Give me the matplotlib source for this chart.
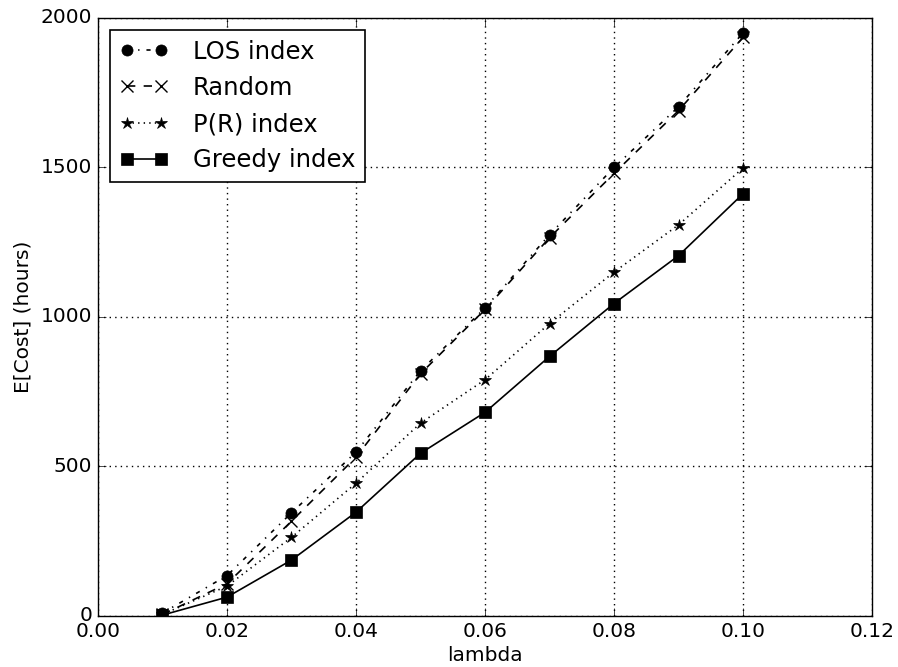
import numpy as np
import matplotlib
matplotlib.use('Agg')
import matplotlib.pyplot as plt

plt.style.use('classic')

# DATA
lam = [0.01, 0.02, 0.03, 0.04, 0.05, 0.06, 0.07, 0.08, 0.09, 0.10]
los_index = [10, 135, 345, 548, 820, 1030, 1275, 1500, 1703, 1950]
random_idx = [5, 108, 317, 531, 810, 1025, 1265, 1480, 1690, 1935]
pr_index = [5, 100, 263, 444, 645, 790, 978, 1150, 1308, 1498]
greedy_index = [3, 63, 187, 347, 544, 681, 868, 1045, 1205, 1412]

fig = plt.figure(figsize=(8.98, 6.67), dpi=100, facecolor='white')
ax = fig.add_axes([0.1091, 0.0765, 0.862, 0.8966])
ax.set_facecolor('white')

ax.plot(lam, los_index, 'k-.', marker='o', ms=8, lw=1.2, label='LOS index')
ax.plot(lam, random_idx, 'k--', marker='x', ms=9, mew=1, lw=1.2, label='Random')
ax.plot(lam, pr_index, 'k:', marker='*', ms=9, lw=1.2, label='P(R) index')
ax.plot(lam, greedy_index, 'k-', marker='s', ms=8, lw=1.2, label='Greedy index')

ax.set_xlim(0, 0.12)
ax.set_ylim(0, 2000)
ax.set_xticks(np.arange(0, 0.121, 0.02))
ax.set_yticks([0, 500, 1000, 1500, 2000])
ax.xaxis.set_major_formatter(matplotlib.ticker.FormatStrFormatter('%.2f'))
ax.grid(True, color='k', linestyle=':', lw=1)
ax.tick_params(labelsize=14.5, direction='in', length=6, pad=4)
ax.set_xlabel('lambda', fontsize=14.5, labelpad=4)
ax.set_ylabel('E[Cost] (hours)', fontsize=14.5, labelpad=6)

leg = ax.legend(loc='upper left', borderaxespad=0.5,
                fontsize=17.5, numpoints=2, handlelength=2.0, fancybox=False,
                labelspacing=0.5, handletextpad=1.0)
leg.get_frame().set_edgecolor('k')
leg.get_frame().set_linewidth(1.2)

plt.savefig('out.png', dpi=100, facecolor='white')
